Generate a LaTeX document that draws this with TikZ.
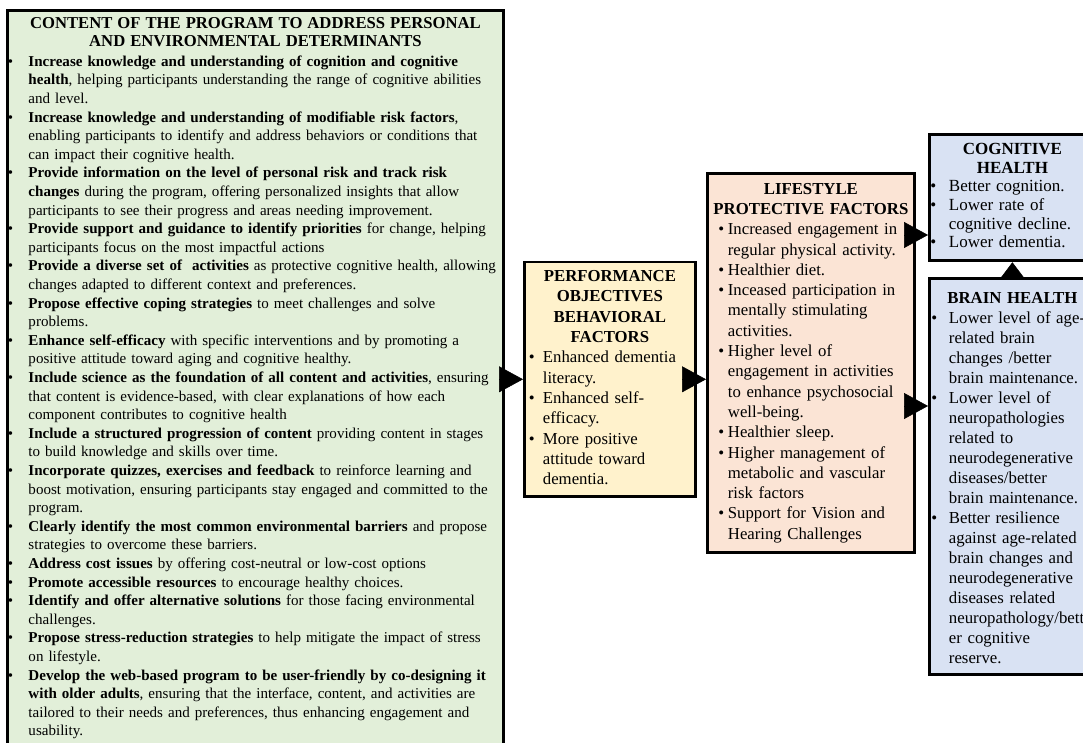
\documentclass[tikz,border=0pt]{standalone}
\usepackage{fontspec}
\setmainfont{Liberation Serif}
\usepackage{tikz}
\usetikzlibrary{arrows.meta,positioning}
\definecolor{cmgreen}{HTML}{E2EFD9}
\definecolor{cmyellow}{HTML}{FFF2CC}
\definecolor{cmpeach}{HTML}{FBE4D5}
\definecolor{cmblue}{HTML}{D9E2F3}
\newlength{\bulpre}
\newlength{\bulhang}
\newcommand{\bul}{\par\noindent\let\\\newline\hangindent=\bulhang\hangafter=1\makebox[\bulhang][l]{\hspace*{\bulpre}\textbullet}}
\tikzstyle{arrow} = [line width=0.5pt, -{Triangle[length=24pt,width=26pt]}]
\tikzstyle{stagebox} = [rectangle, draw=black, line width=2.8pt, anchor=north west, align=left]
\tikzstyle{contentbox} = [stagebox, line width=3pt, fill=cmgreen, inner xsep=0.5pt, inner ysep=6.7pt, text width=495pt, font={\fontsize{15.05pt}{18.6pt}\selectfont\setlength{\bulpre}{0pt}\setlength{\bulhang}{20.5pt}}]
\tikzstyle{perfbox} = [stagebox, fill=cmyellow, inner xsep=3pt, inner ysep=8.7pt, text width=165pt, font={\fontsize{16.75pt}{20.3pt}\selectfont\setlength{\bulpre}{1.5pt}\setlength{\bulhang}{15.5pt}}]
\tikzstyle{lifebox} = [stagebox, fill=cmpeach, inner xsep=3pt, inner ysep=9.7pt, text width=201pt, font={\fontsize{16.75pt}{20.3pt}\selectfont\setlength{\bulpre}{8pt}\setlength{\bulhang}{17.5pt}}]
\tikzstyle{healthbox} = [stagebox, fill=cmblue, inner xsep=1pt, inner ysep=8.7pt, text width=164pt, font={\fontsize{17pt}{18.7pt}\selectfont\setlength{\bulpre}{0pt}\setlength{\bulhang}{18.5pt}}]

\begin{document}
\begin{tikzpicture}[x=1pt, y=-1pt]
\useasboundingbox[fill=white] (0,0) rectangle (1083,743);

% Program content
\node[contentbox] (content) at (6,9) {{\centering\bfseries\fontsize{16.65pt}{18pt}\selectfont CONTENT OF THE PROGRAM TO ADDRESS PERSONAL\\AND ENVIRONMENTAL DETERMINANTS\par}\vspace{1.4pt}
\bul\textbf{Increase knowledge and understanding of cognition and cognitive}\\
\textbf{health}, helping participants understanding the range of cognitive abilities\\
and level.
\bul\textbf{Increase knowledge and understanding of modifiable risk factors},\\
enabling participants to identify and address behaviors or conditions that\\
can impact their cognitive health.
\bul\textbf{Provide information on the level of personal risk and track risk}\\
\textbf{changes} during the program, offering personalized insights that allow\\
participants to see their progress and areas needing improvement.
\bul\textbf{Provide support and guidance to identify priorities} for change, helping\\
participants focus on the most impactful actions
\bul\textbf{Provide a diverse set of\ \ activities} as protective cognitive health, allowing\\
changes adapted to different context and preferences.
\bul\textbf{Propose effective coping strategies} to meet challenges and solve\\
problems.
\bul\textbf{Enhance self-efficacy} with specific interventions and by promoting a\\
positive attitude toward aging and cognitive healthy.
\bul\textbf{Include science as the foundation of all content and activities}, ensuring\\
that content is evidence-based, with clear explanations of how each\\
component contributes to cognitive health
\bul\textbf{Include a structured progression of content} providing content in stages\\
to build knowledge and skills over time.
\bul\textbf{Incorporate quizzes, exercises and feedback} to reinforce learning and\\
boost motivation, ensuring participants stay engaged and committed to the\\
program.
\bul\textbf{Clearly identify the most common environmental barriers} and propose\\
strategies to overcome these barriers.
\bul\textbf{Address cost issues} by offering cost-neutral or low-cost options
\bul\textbf{Promote accessible resources} to encourage healthy choices.
\bul\textbf{Identify and offer alternative solutions} for those facing environmental\\
challenges.
\bul\textbf{Propose stress-reduction strategies} to help mitigate the impact of stress\\
on lifestyle.
\bul\textbf{Develop the web-based program to be user-friendly by co-designing it}\\
\textbf{with older adults}, ensuring that the interface, content, and activities are\\
tailored to their needs and preferences, thus enhancing engagement and\\
usability.\rule[-15pt]{0pt}{0pt}\par};

% Performance objectives
\node[perfbox] (perf) at (523,260.5) {{\centering\bfseries PERFORMANCE\\OBJECTIVES\\BEHAVIORAL\\FACTORS\par}
\bul Enhanced dementia\\literacy.
\bul Enhanced self-\\efficacy.
\bul More positive\\attitude toward\\dementia.\rule[-3.3pt]{0pt}{0pt}\par};

% Lifestyle factors
\node[lifebox] (life) at (706,172) {{\centering\bfseries LIFESTYLE\\PROTECTIVE FACTORS\par}
\bul Increased engagement in\\regular physical activity.
\bul Healthier diet.
\bul Inceased participation in\\mentally stimulating\\activities.
\bul Higher level of\\engagement in activities\\to enhance psychosocial\\well-being.
\bul Healthier sleep.
\bul Higher management of\\metabolic and vascular\\risk factors
\bul Support for Vision and\\Hearing Challenges\par};

% Outcomes
\node[healthbox] (cog) at (928,133) {{\centering\bfseries COGNITIVE\\HEALTH\par}
\bul Better cognition.
\bul Lower rate of\\cognitive decline.
\bul Lower dementia.\rule[-4.3pt]{0pt}{0pt}\par};
\node[healthbox, inner ysep=10pt, font={\fontsize{16.8pt}{20pt}\selectfont\setlength{\bulpre}{1pt}\setlength{\bulhang}{18.5pt}}] (brain) at (928,277) {{\centering\bfseries\rule{0pt}{15pt}BRAIN HEALTH\par}
\bul Lower level of age-\\related brain\\changes /better\\brain maintenance.
\bul Lower level of\\neuropathologies\\related to\\neurodegenerative\\diseases/better\\brain maintenance.
\bul Better resilience\\against age-related\\brain changes and\\neurodegenerative\\diseases related\\neuropathology/bett\\er cognitive\\reserve.\rule[-1pt]{0pt}{0pt}\par};

\draw[arrow] (content.east |- perf.west) -- (perf.west);
\draw[arrow] (perf.east) -- (perf.east -| life.west);
\draw[arrow] (life.east |- 0,235) -- (cog.west |- 0,235);
\draw[arrow] (life.east |- 0,406) -- (brain.west |- 0,406);
\draw[arrow, -{Triangle[length=16pt,width=24pt]}] (brain.north) -- (cog.south);
\end{tikzpicture}
\end{document}
